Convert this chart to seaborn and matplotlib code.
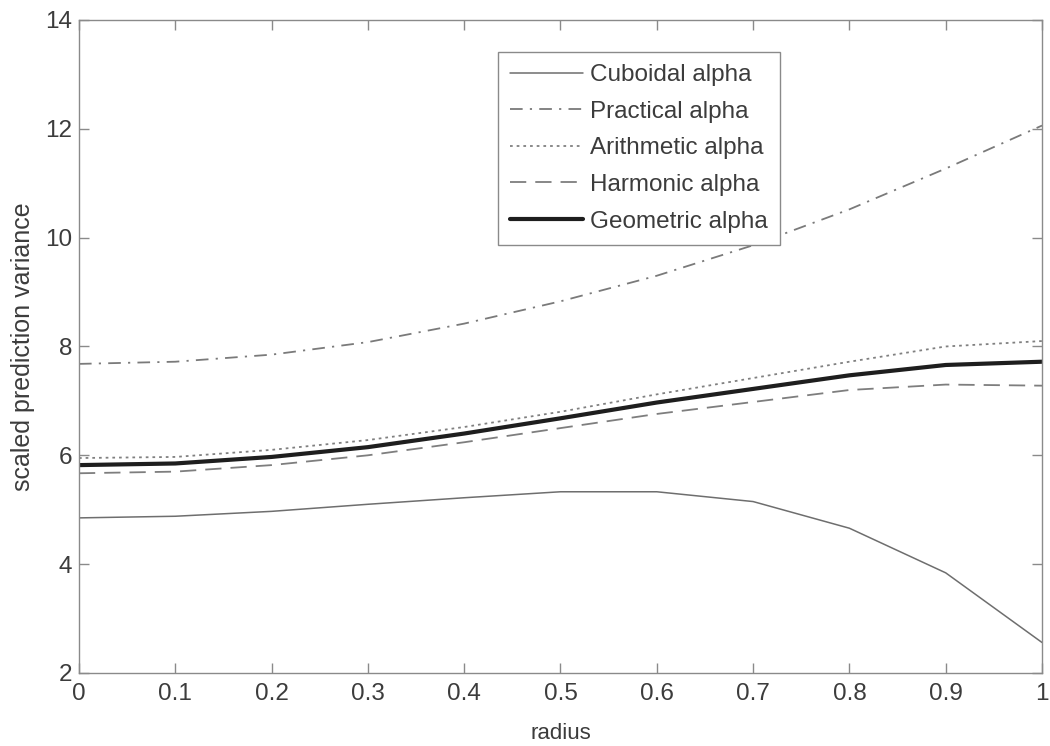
import numpy as np
import pandas as pd
import matplotlib
matplotlib.use("Agg")
import matplotlib.pyplot as plt
import seaborn as sns

radius = [0.0, 0.1, 0.2, 0.3, 0.4, 0.5, 0.6, 0.7, 0.8, 0.9, 1.0]
cuboidal = [4.85, 4.88, 4.97, 5.10, 5.22, 5.33, 5.33, 5.15, 4.66, 3.84, 2.56]
practical = [7.68, 7.72, 7.85, 8.08, 8.42, 8.83, 9.30, 9.86, 10.52, 11.27, 12.06]
arithmetic = [5.95, 5.97, 6.10, 6.28, 6.52, 6.80, 7.12, 7.42, 7.72, 8.00, 8.10]
harmonic = [5.67, 5.70, 5.82, 6.00, 6.24, 6.50, 6.76, 6.98, 7.20, 7.30, 7.28]
geometric = [5.82, 5.85, 5.97, 6.15, 6.40, 6.68, 6.97, 7.22, 7.47, 7.66, 7.72]

series_names = ["Cuboidal alpha", "Practical alpha", "Arithmetic alpha",
                "Harmonic alpha", "Geometric alpha"]
series_values = [cuboidal, practical, arithmetic, harmonic, geometric]

df = pd.concat(
    [pd.DataFrame({"radius": radius, "spv": vals, "design": name})
     for name, vals in zip(series_names, series_values)],
    ignore_index=True,
)

sns.set_style("white")
plt.rcParams["font.family"] = ["Liberation Sans", "DejaVu Sans"]

text_color = "#3c3c3c"
styles = {
    "Cuboidal alpha": dict(color="#6e6e6e", lw=1.1, ls="-"),
    "Practical alpha": dict(color="#7a7a7a", lw=1.3, ls=(0, (7, 4, 1.2, 4))),
    "Arithmetic alpha": dict(color="#808080", lw=1.3, ls=(0, (1.5, 2.2))),
    "Harmonic alpha": dict(color="#7e7e7e", lw=1.3, ls=(0, (9, 5))),
    "Geometric alpha": dict(color="#1e1e1e", lw=3.0, ls="-"),
}

fig = plt.figure(figsize=(10.5, 7.46), dpi=100)
ax = fig.add_axes([0.0752, 0.0979, 0.9172, 0.8753])

for name in series_names:
    st = styles[name]
    sns.lineplot(data=df[df["design"] == name], x="radius", y="spv",
                 ax=ax, color=st["color"], linewidth=st["lw"],
                 linestyle=st["ls"], label=name, legend=False)

ax.set_xlim(0, 1)
ax.set_ylim(2, 14)
ax.set_xticks(np.arange(0, 1.01, 0.1))
ax.set_xticklabels(["0", "0.1", "0.2", "0.3", "0.4", "0.5", "0.6", "0.7",
                    "0.8", "0.9", "1"])
ax.set_yticks([2, 4, 6, 8, 10, 12, 14])

for sp in ax.spines.values():
    sp.set_color("#8a8a8a")
    sp.set_linewidth(1.0)

ax.tick_params(direction="in", length=7, width=1.0, color="#8a8a8a",
               top=True, right=True, bottom=True, left=True,
               labelsize=17.5, labelcolor=text_color)
ax.tick_params(axis="x", pad=7)
ax.tick_params(axis="y", pad=5)

ax.set_xlabel("radius", fontsize=16, color=text_color, labelpad=13)
ax.set_ylabel("scaled prediction variance", fontsize=18, color=text_color,
              labelpad=7)

leg = ax.legend(loc="upper left", bbox_to_anchor=(0.435, 0.951),
                fontsize=17.5, handlelength=3.0, handletextpad=0.3,
                labelspacing=0.6, borderpad=0.5, borderaxespad=0,
                frameon=True, fancybox=False, framealpha=1)
leg.get_frame().set_edgecolor("#8a8a8a")
leg.get_frame().set_linewidth(1.0)
for t in leg.get_texts():
    t.set_color(text_color)

fig.savefig("out.png", dpi=100, facecolor="white")
